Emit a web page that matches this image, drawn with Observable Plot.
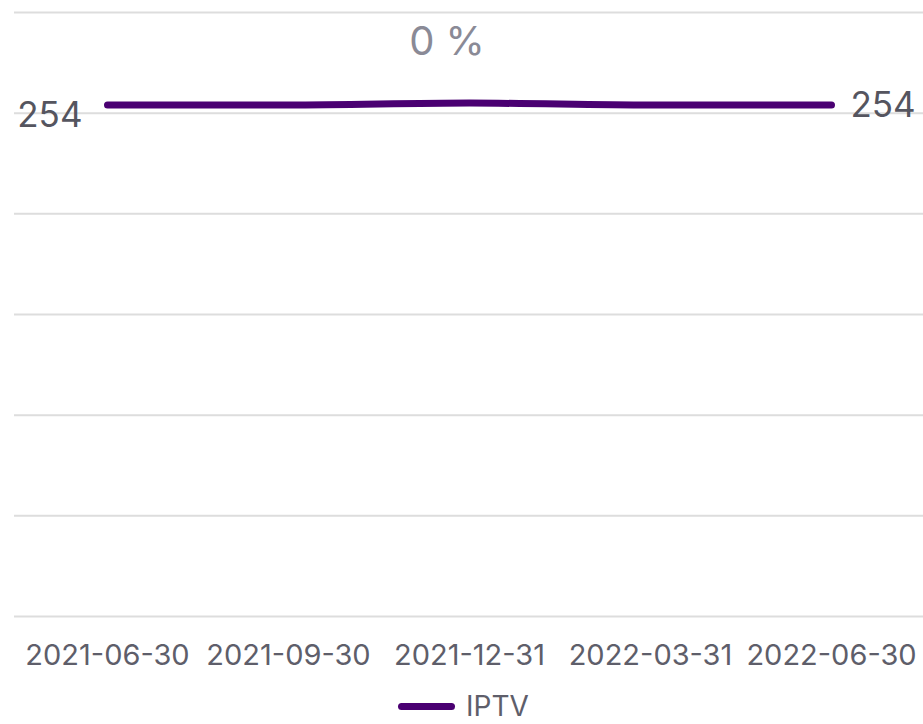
<!DOCTYPE html>
<html>
<head>
<meta charset="utf-8">
<script src="https://cdn.jsdelivr.net/npm/d3@7"></script>
<script src="https://cdn.jsdelivr.net/npm/@observablehq/plot@0.6"></script>
<style>
  html, body { margin: 0; padding: 0; background: #fff; }
  body { width: 923px; height: 724px; overflow: hidden; font-family: Inter, "Noto Sans", sans-serif; }
  #chart svg { display: block; }
  #legend { display: flex; justify-content: center; align-items: center; gap: 11px; margin-top: 1px; height: 30px; padding-left: 4px; }
  #legend .sw { width: 57px; height: 7px; border-radius: 4px; background: #4a0072; }
  #legend .lab { font-size: 28px; color: #5e5e6a; line-height: 30px; }
</style>
</head>
<body>
<div id="chart"></div>
<div id="legend"></div>
<script>
const seriesName = "IPTV";
const dates = ["2021-06-30", "2021-09-30", "2021-12-31", "2022-03-31", "2022-06-30"];
const values = [254, 254, 255, 254, 254];
const changeLabel = "0 %";
const yTicks = [0, 50, 100, 150, 200, 250, 300];

const data = dates.map((d, i) => ({date: d, value: values[i]}));
const first = data[0], last = data[data.length - 1];

const lineColor = "#4a0072";
const textColor = "#5e5e6a";

const chart = Plot.plot({
  width: 923,
  height: 690,
  marginLeft: 14,
  marginRight: 0,
  marginTop: 12,
  marginBottom: 74,
  style: {fontFamily: "Inter, 'Noto Sans', sans-serif", background: "#fff"},
  x: {type: "point", domain: dates, padding: 0.5, align: 0.5, label: null},
  y: {domain: [0, 300], axis: null},
  marks: [
    Plot.ruleY(yTicks, {stroke: "#dddddd", strokeWidth: 2}),
    Plot.axisX({tickSize: 0, tickPadding: 28, fontSize: 29, fill: textColor, color: textColor, label: null}),
    Plot.line(data, {x: "date", y: "value", stroke: lineColor, strokeWidth: 7, curve: "monotone-x", strokeLinecap: "round"}),
    Plot.text([first], {x: "date", y: "value", text: d => String(d.value), textAnchor: "end", dx: -25, dy: 11, fontSize: 35, fill: "#55555f"}),
    Plot.text([last], {x: "date", y: "value", text: d => String(d.value), textAnchor: "start", dx: 19, dy: 1, fontSize: 35, fill: "#55555f"}),
    Plot.text([changeLabel], {text: d => d, frameAnchor: "top", dx: -22, dy: 14, fontSize: 40, fill: "#8a8a96"})
  ]
});
document.getElementById("chart").appendChild(chart);

const legend = document.getElementById("legend");
legend.innerHTML = `<span class="sw"></span><span class="lab">${seriesName}</span>`;
</script>
</body>
</html>
